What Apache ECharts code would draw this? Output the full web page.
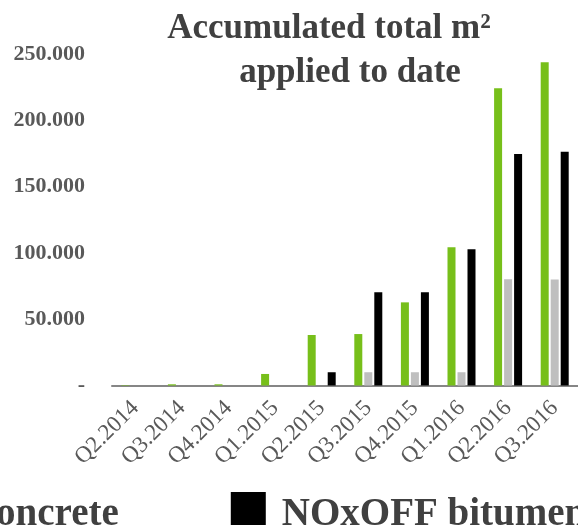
<!DOCTYPE html>
<html>
<head>
<meta charset="utf-8">
<script src="https://cdn.jsdelivr.net/npm/echarts@6/dist/echarts.min.js"></script>
<style>html,body{margin:0;padding:0;background:#fff;}#chart{width:578px;height:525px;}</style>
</head>
<body>
<div id="chart"></div>
<script>
const categories = ['Q2.2014','Q3.2014','Q4.2014','Q1.2015','Q2.2015','Q3.2015','Q4.2015','Q1.2016','Q2.2016','Q3.2016'];
const seriesNames = ['NOxOFF paving stones','NOxOFF concrete','NOxOFF bitumen'];
const greenValues = [300, 900, 900, 8700, 38100, 38800, 62700, 104200, 224100, 243700];
const grayValues  = [0, 0, 0, 0, 0, 10000, 10000, 10000, 80100, 80000];
const blackValues = [0, 0, 0, 0, 10000, 70300, 70300, 102700, 174600, 176300];
const yTicks = [0, 50000, 100000, 150000, 200000, 250000];

const serif = '"Liberation Serif", "DejaVu Serif", serif';
function fmt(v){ if (v === 0) return '-'; return String(v).replace(/\B(?=(\d{3})+(?!\d))/g, '.'); }

const chart = echarts.init(document.getElementById('chart'));
chart.setOption({
  animation: false,
  backgroundColor: '#ffffff',
  title: {
    text: 'Accumulated total m\u00B2\n{b|applied to date}',
    left: 329, top: 7, padding: 0,
    textAlign: 'center',
    textStyle: {
      fontFamily: serif, fontWeight: 'bold', fontSize: 35, lineHeight: 44, color: '#404040',
      rich: { b: { fontFamily: serif, fontWeight: 'bold', fontSize: 35, lineHeight: 44, color: '#404040', padding: [0,0,0,42] } }
    }
  },
  legend: {
    left: -791, top: 492, width: 1600, padding: 0,
    itemWidth: 35, itemHeight: 46, itemGap: 112, icon: 'rect',
    data: seriesNames,
    textStyle: { fontFamily: serif, fontWeight: 'bold', fontSize: 39, color: '#404040', padding: [0,0,0,11] }
  },
  grid: { left: 112, right: -3, top: 54, bottom: 139.5, containLabel: false },
  xAxis: {
    type: 'category', data: categories,
    axisLine: { show: true, lineStyle: { color: '#868686', width: 2 } },
    axisTick: { show: false },
    axisLabel: { rotate: 45, margin: 19, fontFamily: serif, fontSize: 23, color: '#595959', interval: 0 }
  },
  yAxis: {
    type: 'value', min: yTicks[0], max: yTicks[yTicks.length-1], interval: yTicks[1]-yTicks[0],
    axisLine: { show: false }, axisTick: { show: false }, splitLine: { show: false },
    axisLabel: { margin: 27, fontFamily: serif, fontWeight: 'bold', fontSize: 22, color: '#595959', formatter: fmt }
  },
  series: [
    { name: seriesNames[0], type: 'bar', data: greenValues, barWidth: 8, barGap: '25%', itemStyle: { color: '#77BF1A' } },
    { name: seriesNames[1], type: 'bar', data: grayValues, barWidth: 8, barGap: '25%', itemStyle: { color: '#BFBFBF' } },
    { name: seriesNames[2], type: 'bar', data: blackValues, barWidth: 8, barGap: '25%', itemStyle: { color: '#000000' } }
  ]
});
</script>
</body>
</html>
